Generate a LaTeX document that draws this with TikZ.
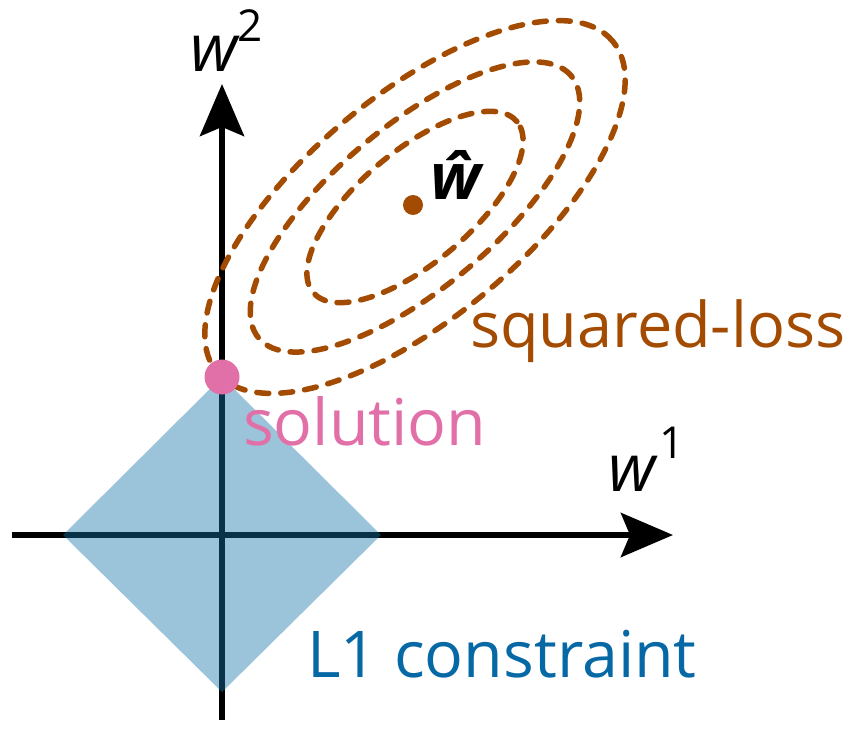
\documentclass[tikz,border=0pt]{standalone}
\usepackage{fontspec}
\setmainfont{Open Sans}
\usetikzlibrary{arrows.meta}
\definecolor{lossbrown}{RGB}{163,75,0}
\definecolor{solpink}{RGB}{225,112,168}
\definecolor{constblue}{RGB}{6,104,165}
\definecolor{diamondblue}{RGB}{23,116,170}
\tikzset{
  axisline/.style={line width=6pt,-{Stealth[inset=9pt,length=52pt,width=44pt]}},
  contour/.style={lossbrown,line width=5.5pt,line cap=round,dash pattern=on 12pt off 12pt},
  bigtext/.style={inner sep=0pt,anchor=base west,font=\fontsize{64.5}{70}\selectfont},
  axlabel/.style={inner sep=0pt,anchor=base west,font=\fontsize{66}{70}\selectfont\itshape}
}
\begin{document}
\begin{tikzpicture}[x=1pt,y=-1pt]
\useasboundingbox (0,0) rectangle (852,746);
% axes
\coordinate (O) at (222,535);
\coordinate (xs) at (12,535);
\coordinate (xe) at (673,535);
\coordinate (ys) at (222,720);
\coordinate (ye) at (222,84);
\draw[axisline] (xs) -- (xe);
\draw[axisline] (ys) -- (ye);
% L1 diamond
\coordinate (dl) at (63,535);
\coordinate (dr) at (381,535);
\coordinate (dt) at (222,377);
\coordinate (db) at (222,692);
\fill[diamondblue,fill opacity=0.43] (dl) -- (dt) -- (dr) -- (db) -- cycle;
% loss contours
\coordinate (c) at (415,207);
\draw[contour,rotate around={40:(c)}] (c) ellipse [x radius=133pt,y radius=56pt];
\draw[contour,rotate around={40:(c)}] (c) ellipse [x radius=204pt,y radius=81pt];
\draw[contour,rotate around={40:(c)}] (c) ellipse [x radius=258pt,y radius=111pt];
\node[circle,fill=lossbrown,minimum size=20pt,inner sep=0pt] (what) at (413,205) {};
\node[inner sep=0pt,anchor=base west,font=\fontsize{64}{70}\selectfont\bfseries\itshape] (whatlabel) at (430,200) {ŵ};
% solution
\node[circle,fill=solpink,minimum size=35pt,inner sep=0pt] (sol) at (dt) {};
% labels
\node[bigtext,text=solpink] (soltext) at (243,445) {solution};
\node[bigtext,text=lossbrown,font=\fontsize{63}{70}\selectfont] (losstext) at (470,348) {squared-loss};
\node[bigtext,text=constblue] (consttext) at (307,677) {L1 constraint};
\node[axlabel] (w2) at (190,72) {w\upshape\raisebox{30pt}{\fontsize{44}{44}\selectfont 2}};
\node[axlabel] (w1) at (608,491) {w\upshape\hspace{4pt}\raisebox{33pt}{\fontsize{44}{44}\selectfont 1}};
\end{tikzpicture}
\end{document}
